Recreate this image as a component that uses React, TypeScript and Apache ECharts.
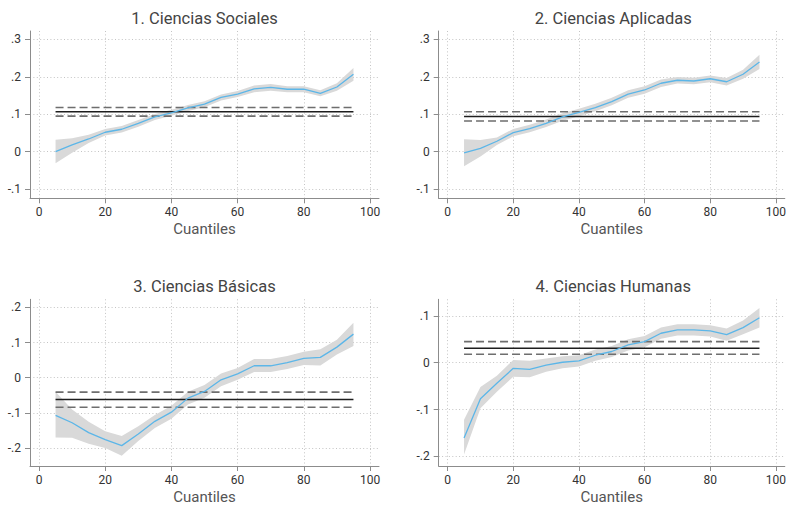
import React, { useEffect, useRef } from "react";
import * as echarts from "echarts";

const quantiles = [5, 10, 15, 20, 25, 30, 35, 40, 45, 50, 55, 60, 65, 70, 75, 80, 85, 90, 95];

const titles = ["1. Ciencias Sociales", "2. Ciencias Aplicadas", "3. Ciencias Básicas", "4. Ciencias Humanas"];

const est1 = [0.0, 0.018, 0.034, 0.052, 0.06, 0.076, 0.093, 0.104, 0.117, 0.127, 0.145, 0.154, 0.168, 0.172, 0.167, 0.167, 0.156, 0.173, 0.207];
const up1 = [0.032, 0.036, 0.045, 0.061, 0.069, 0.085, 0.101, 0.112, 0.125, 0.135, 0.153, 0.162, 0.177, 0.181, 0.175, 0.175, 0.164, 0.183, 0.224];
const lo1 = [-0.031, -0.003, 0.023, 0.043, 0.051, 0.067, 0.085, 0.096, 0.109, 0.119, 0.137, 0.146, 0.159, 0.163, 0.159, 0.159, 0.148, 0.163, 0.19];

const est2 = [-0.003, 0.009, 0.028, 0.051, 0.062, 0.076, 0.093, 0.105, 0.118, 0.134, 0.154, 0.165, 0.183, 0.191, 0.189, 0.195, 0.187, 0.207, 0.24];
const up2 = [0.033, 0.031, 0.038, 0.061, 0.072, 0.086, 0.103, 0.115, 0.128, 0.144, 0.164, 0.175, 0.193, 0.2, 0.198, 0.204, 0.197, 0.219, 0.259];
const lo2 = [-0.039, -0.013, 0.018, 0.041, 0.052, 0.066, 0.083, 0.095, 0.108, 0.124, 0.144, 0.155, 0.173, 0.182, 0.18, 0.186, 0.177, 0.195, 0.221];

const est3 = [-0.107, -0.128, -0.156, -0.176, -0.193, -0.16, -0.124, -0.098, -0.058, -0.039, -0.006, 0.011, 0.034, 0.034, 0.043, 0.055, 0.058, 0.087, 0.124];
const up3 = [-0.04, -0.09, -0.125, -0.152, -0.166, -0.138, -0.106, -0.08, -0.04, -0.021, 0.012, 0.028, 0.053, 0.053, 0.062, 0.074, 0.081, 0.108, 0.156];
const lo3 = [-0.17, -0.171, -0.188, -0.2, -0.222, -0.18, -0.143, -0.117, -0.076, -0.057, -0.024, -0.006, 0.016, 0.016, 0.025, 0.036, 0.035, 0.066, 0.09];

const est4 = [-0.161, -0.077, -0.044, -0.012, -0.014, -0.005, 0.001, 0.004, 0.016, 0.024, 0.038, 0.045, 0.063, 0.07, 0.07, 0.068, 0.06, 0.075, 0.096];
const up4 = [-0.122, -0.052, -0.028, 0.006, 0.004, 0.009, 0.014, 0.016, 0.028, 0.036, 0.05, 0.057, 0.075, 0.082, 0.082, 0.08, 0.073, 0.09, 0.117];
const lo4 = [-0.196, -0.097, -0.062, -0.03, -0.031, -0.019, -0.012, -0.008, 0.004, 0.012, 0.026, 0.033, 0.051, 0.058, 0.058, 0.056, 0.047, 0.061, 0.075];

// average effect with its confidence bounds: [mean, lower, upper]
const avg1 = [0.107, 0.095, 0.118];
const avg2 = [0.094, 0.082, 0.107];
const avg3 = [-0.062, -0.084, -0.041];
const avg4 = [0.031, 0.018, 0.045];

const yTicks1 = [-0.1, 0, 0.1, 0.2, 0.3];
const yTicks2 = [-0.1, 0, 0.1, 0.2, 0.3];
const yTicks3 = [-0.2, -0.1, 0, 0.1, 0.2];
const yTicks4 = [-0.2, -0.1, 0, 0.1];
const xTicks = [0, 20, 40, 60, 80, 100];

const panels = [
  { est: est1, up: up1, lo: lo1, avg: avg1, yTicks: yTicks1 },
  { est: est2, up: up2, lo: lo2, avg: avg2, yTicks: yTicks2 },
  { est: est3, up: up3, lo: lo3, avg: avg3, yTicks: yTicks3 },
  { est: est4, up: up4, lo: lo4, avg: avg4, yTicks: yTicks4 },
];

const FONT = "Roboto";

function fmtY(v: number): string {
  const r = Math.round(v * 10) / 10;
  if (r === 0) return "0";
  return r.toString().replace("0.", ".");
}

export default function App() {
  const ref = useRef<HTMLDivElement>(null);
  useEffect(() => {
    if (!ref.current) return;
    const chart = echarts.init(ref.current, null, { renderer: "svg" });

    const gridDefs = [
      { left: 30, top: 31, width: 349, height: 167.3 },
      { left: 438.7, top: 31, width: 349, height: 167.3 },
      { left: 30, top: 299.3, width: 349, height: 167.4 },
      { left: 438.7, top: 299.3, width: 349, height: 167.4 },
    ];
    const yRanges = [
      [-0.1246, 0.3227],
      [-0.1246, 0.3227],
      [-0.251, 0.223],
      [-0.2206, 0.1355],
    ];

    const axisColor = "#8c8c8c";
    const gridLine = { show: true, lineStyle: { color: "#c4c4c4", type: [1, 2.4] as any, width: 1 } };

    const xAxes = gridDefs.map((_, i) => ({
      type: "value",
      gridIndex: i,
      min: -2.72,
      max: 102.72,
      axisLine: { show: true, onZero: false, lineStyle: { color: axisColor, width: 1 } },
      axisTick: { show: true, length: 5, customValues: xTicks, lineStyle: { color: axisColor } },
      axisLabel: { customValues: xTicks, color: "#333", fontSize: 12, fontFamily: FONT, margin: 8, showMinLabel: true, showMaxLabel: true },
      splitLine: gridLine,
      name: "Cuantiles",
      nameLocation: "middle",
      nameGap: 23,
      nameTextStyle: { color: "#555", fontSize: 15, fontFamily: FONT, verticalAlign: "top" },
    }));

    const yAxes = gridDefs.map((_, i) => ({
      type: "value",
      gridIndex: i,
      min: yRanges[i][0],
      max: yRanges[i][1],
      axisLine: { show: true, onZero: false, lineStyle: { color: axisColor, width: 1 } },
      axisTick: { show: true, length: 5, customValues: panels[i].yTicks, lineStyle: { color: axisColor } },
      axisLabel: { customValues: panels[i].yTicks, color: "#333", fontSize: 12, fontFamily: FONT, margin: 9, formatter: (v: number) => fmtY(v) },
      splitLine: gridLine,
    }));

    const series: any[] = [];
    panels.forEach((p, i) => {
      series.push({
        type: "custom",
        xAxisIndex: i,
        yAxisIndex: i,
        silent: true,
        z: 1,
        data: [[quantiles[0], p.est[0]]],
        renderItem: (_params: any, api: any) => {
          const pts: number[][] = [];
          for (let j = 0; j < quantiles.length; j++) pts.push(api.coord([quantiles[j], p.up[j]]));
          for (let j = quantiles.length - 1; j >= 0; j--) pts.push(api.coord([quantiles[j], p.lo[j]]));
          return { type: "polygon", shape: { points: pts }, style: { fill: "#d9d9d9", stroke: "none" } };
        },
      });
      const first = quantiles[0];
      const last = quantiles[quantiles.length - 1];
      [1, 2].forEach((k) => {
        series.push({
          type: "line",
          xAxisIndex: i,
          yAxisIndex: i,
          silent: true,
          z: 3,
          showSymbol: false,
          data: [[first, p.avg[k]], [last, p.avg[k]]],
          lineStyle: { color: "#6e6e6e", width: 1.6, type: [8, 4] },
        });
      });
      series.push({
        type: "line",
        xAxisIndex: i,
        yAxisIndex: i,
        silent: true,
        z: 3,
        showSymbol: false,
        data: [[first, p.avg[0]], [last, p.avg[0]]],
        lineStyle: { color: "#1e1e1e", width: 1.5 },
      });
      series.push({
        type: "line",
        xAxisIndex: i,
        yAxisIndex: i,
        silent: true,
        z: 4,
        showSymbol: false,
        data: quantiles.map((x, j) => [x, p.est[j]]),
        lineStyle: { color: "#5cb6e8", width: 1.3 },
      });
    });

    const titlePos = [
      [204.5, 18],
      [613.2, 18],
      [204.5, 286],
      [613.2, 286],
    ];

    chart.setOption({
      animation: false,
      backgroundColor: "#ffffff",
      grid: gridDefs,
      xAxis: xAxes,
      yAxis: yAxes,
      series,
      graphic: titles.map((t, i) => ({
        type: "text",
        x: titlePos[i][0],
        y: titlePos[i][1],
        silent: true,
        style: {
          text: t,
          fill: "#444444",
          fontSize: 16.5,
          fontFamily: FONT,
          textAlign: "center",
          textVerticalAlign: "middle",
        },
      })),
    });
    return () => chart.dispose();
  }, []);
  return <div ref={ref} style={{ position: "fixed", left: 0, top: 0, width: 789, height: 505 }} />;
}
